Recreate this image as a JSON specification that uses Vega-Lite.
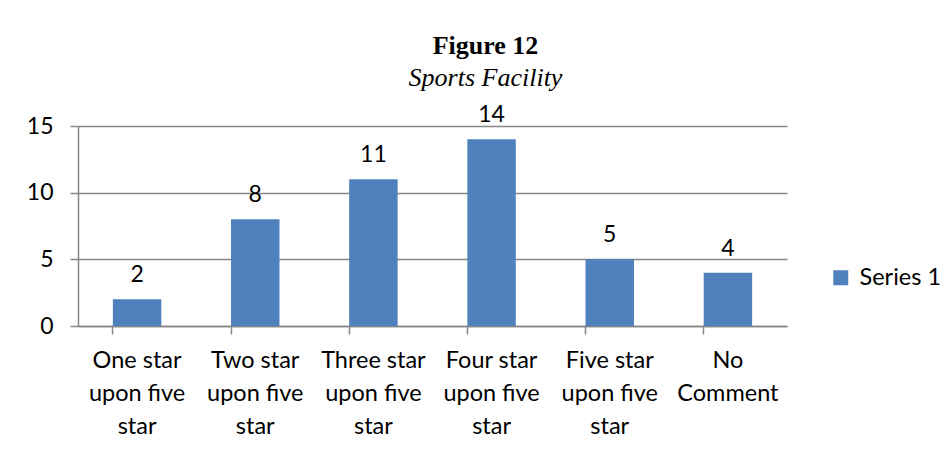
{
  "$schema": "https://vega.github.io/schema/vega-lite/v6.json",
  "width": 709,
  "height": 200,
  "autosize": "none",
  "padding": {"left": 78, "top": 126, "right": 160, "bottom": 124},
  "background": "white",
  "title": {
    "text": "Figure 12",
    "subtitle": "Sports Facility",
    "font": "Liberation Serif",
    "fontSize": 26,
    "fontWeight": "bold",
    "color": "black",
    "subtitleFont": "Liberation Serif",
    "subtitleFontSize": 26,
    "subtitleFontStyle": "italic",
    "subtitleColor": "black",
    "subtitlePadding": 6,
    "anchor": "middle",
    "frame": "group",
    "dx": 53,
    "offset": 13
  },
  "data": {
    "values": [
      {"category": "One star\nupon five\nstar", "value": 2},
      {"category": "Two star\nupon five\nstar", "value": 8},
      {"category": "Three star\nupon five\nstar", "value": 11},
      {"category": "Four star\nupon five\nstar", "value": 14},
      {"category": "Five star\nupon five\nstar", "value": 5},
      {"category": "No\nComment", "value": 4}
    ]
  },
  "encoding": {
    "x": {
      "field": "category",
      "type": "nominal",
      "sort": null,
      "scale": {"paddingInner": 0.59, "paddingOuter": 0.295},
      "axis": {
        "title": null,
        "labelAngle": 0,
        "labelExpr": "split(datum.label, '\\n')",
        "labelFont": "Lato",
        "labelFontSize": 23.5,
        "labelColor": "black",
        "labelLineHeight": 33,
        "labelBaseline": "top",
        "labelPadding": 14,
        "labelLimit": 200,
        "domainColor": "#868686",
        "domainWidth": 1.5,
        "tickColor": "#868686",
        "tickWidth": 1.5,
        "tickSize": 8,
        "bandPosition": 0,
        "grid": false
      }
    },
    "y": {
      "field": "value",
      "type": "quantitative",
      "scale": {"domain": [0, 15], "nice": false},
      "axis": {
        "title": null,
        "values": [0, 5, 10, 15],
        "labelFont": "Lato",
        "labelFontSize": 23,
        "labelColor": "black",
        "labelPadding": 17,
        "domainColor": "#868686",
        "domainWidth": 1.5,
        "tickColor": "#868686",
        "tickWidth": 1.5,
        "tickSize": 8,
        "grid": true,
        "gridColor": "#868686",
        "gridWidth": 1.5
      }
    }
  },
  "layer": [
    {
      "mark": {"type": "bar"},
      "encoding": {
        "color": {
          "datum": "Series 1",
          "scale": {"range": ["#4F81BD"]},
          "legend": {
            "title": null,
            "orient": "none",
            "legendX": 751,
            "legendY": 140,
            "padding": 0,
            "symbolType": "square",
            "symbolSize": 225,
            "symbolStrokeWidth": 0,
            "labelFont": "Lato",
            "labelFontSize": 23.5,
            "labelColor": "black",
            "labelOffset": 7
          }
        }
      }
    },
    {
      "mark": {"type": "text", "baseline": "alphabetic", "dy": -17, "font": "Lato", "fontSize": 23, "color": "black"},
      "encoding": {"text": {"field": "value", "type": "quantitative"}}
    }
  ],
  "config": {"view": {"stroke": null}}
}
